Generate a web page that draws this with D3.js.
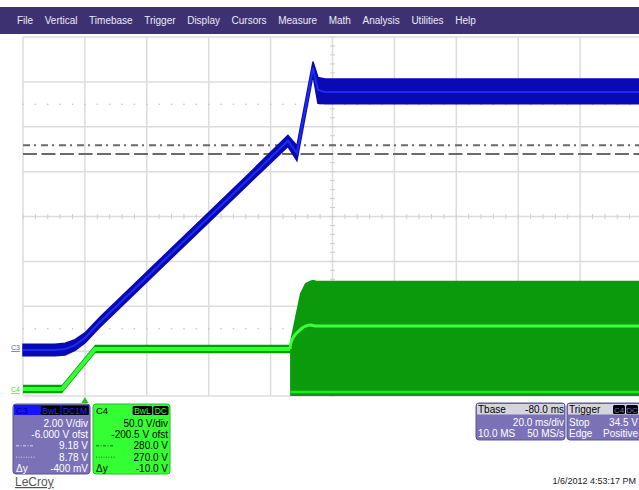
<!DOCTYPE html>
<html><head><meta charset="utf-8">
<script src="https://cdn.jsdelivr.net/npm/d3@7"></script>
<style>
body{margin:0;background:#fff;}
svg{display:block;font-family:"Liberation Sans",Arial,sans-serif;}
</style>
</head><body>
<svg id="c" width="639" height="490"></svg>
<script>
// ---------- data ----------
const menuItems = ["File","Vertical","Timebase","Trigger","Display","Cursors","Measure","Math","Analysis","Utilities","Help"];

// time axis (ms), 20 ms/div, 10 divisions, trigger at t=0
const timeTicks = [-20,0,20,40,60,80,100,120,140,160,180];
// C3 volts grid, 2 V/div, offset -6 V
const c3Ticks = [-2,0,2,4,6,8,10,12,14];

// C3 (blue) trace: time (ms), mean, low/high envelope (V)
const c3Time  = [-20, -9.7, -6.4, -3.2, 0.0, 4.9, 21.0, 37.2, 53.3, 65.6, 68.5, 73.7, 75.3, 77.6, 180];
const c3Volts = [0.05, 0.05, 0.09, 0.27, 0.59, 1.30, 3.44, 5.59, 7.73, 9.37, 8.83, 12.62, 11.64, 11.55, 11.55];
const c3Lo    = [-0.21,-0.21,-0.17,0.03, 0.37, 1.08, 3.22, 5.37, 7.51, 9.12, 8.50, 12.30, 11.05, 11.02, 11.02];
const c3Hi    = [0.31, 0.31, 0.35, 0.51, 0.81, 1.52, 3.66, 5.81, 7.95, 9.62, 9.15, 12.90, 12.20, 12.13, 12.13];

// C4 (green) trace before switching: time (ms), mean, envelope (V)
const c4Time  = [-20, -7.4, 3.3, 66.3];
const c4Volts = [8.3, 8.3, 52.9, 52.9];
const c4Lo    = [3.5, 3.5, 48.0, 48.0];
const c4Hi    = [13.0, 13.0, 57.5, 57.5];

// C4 switching section: time (ms), top of envelope, averaged level, low level (V)
const c4SwTime = [66.3, 66.5, 67.9, 69.5, 70.1, 71.1, 72.7, 73.7, 74.9, 180];
const c4SwTop  = [52.9, 65, 88.5, 115, 119, 126, 129, 130, 129, 129];
const c4SwMean = [52.9, 59, 68.5, 74, 76, 78, 79.6, 79, 78.5, 78.5];
const c4SwLow  = [5, 5, 5, 5, 5, 5, 5, 5, 5, 5];

// cursors (C3 volts)
const cursorLevels = [9.18, 8.78];

// info box texts
const c3Box = {hdr:"C3", tags:["BwL","DC1M"], rows:[["","2.00 V/div"],["","-6.000 V ofst"],["dashdot","9.18 V"],["dot","8.78 V"],["Δy","-400 mV"]]};
const c4Box = {hdr:"C4", tags:["BwL","DC"], rows:[["","50.0 V/div"],["","-200.5 V ofst"],["dashdot","280.0 V"],["dot","270.0 V"],["Δy","-10.0 V"]]};
const tbaseBox = {hdr:["Tbase","-80.0 ms"], rows:[["","20.0 ms/div"],["10.0 MS","50 MS/s"]]};
const trigBox = {hdr:["Trigger"], tags:["C4","DC"], rows:[["Stop","34.5 V"],["Edge","Positive"]]};
const dateText = "1/6/2012 4:53:17 PM";

// ---------- drawing ----------
const svg = d3.select("#c");
const L = 23, R = 642, T = 37, B = 396;
const x = d3.scaleLinear().domain([-20,180]).range([L,R]);
const y3 = d3.scaleLinear().domain([-2,14]).range([B,T]);
const y4 = d3.scaleLinear().domain([0.5,400.5]).range([B,T]);

// menu bar
svg.append("rect").attr("x",0).attr("y",7).attr("width",639).attr("height",27).attr("fill","#3d3172");
let mx = 17;
menuItems.forEach(m => {
  const t = svg.append("text").attr("x",mx).attr("y",24).attr("font-size",10).attr("fill","#ecebf5").text(m);
  mx += t.node().getComputedTextLength() + 11.6;
});

// grid
const grid = svg.append("g");
grid.selectAll("line.v").data(timeTicks).join("line")
  .attr("x1",d=>x(d)).attr("x2",d=>x(d)).attr("y1",T).attr("y2",B)
  .attr("stroke","#dcdcdc").attr("stroke-width",1.5);
grid.selectAll("line.h").data(c3Ticks).join("line")
  .attr("x1",L).attr("x2",R).attr("y1",d=>y3(d)).attr("y2",d=>y3(d))
  .attr("stroke","#dcdcdc").attr("stroke-width",1.5);
// minor ticks on centre lines
const minorT = d3.range(-20,180.01,4);
grid.selectAll("line.mt").data(minorT).join("line")
  .attr("x1",d=>x(d)).attr("x2",d=>x(d)).attr("y1",y3(6)-2.5).attr("y2",y3(6)+2.5)
  .attr("stroke","#cfcfcf").attr("stroke-width",1);
const minorV = d3.range(-2,14.01,0.4);
grid.selectAll("line.mv").data(minorV).join("line")
  .attr("x1",x(80)-2.5).attr("x2",x(80)+2.5).attr("y1",d=>y3(d)).attr("y2",d=>y3(d))
  .attr("stroke","#cfcfcf").attr("stroke-width",1);
// dotted rows
[11,1].forEach(v=>{
  grid.selectAll(null).data(minorT).join("rect")
    .attr("x",d=>x(d)-0.7).attr("y",y3(v)-0.7).attr("width",1.4).attr("height",1.4).attr("fill","#c8c8c8");
});

// cursors
svg.append("line").attr("x1",L).attr("x2",639).attr("y1",y3(cursorLevels[0])).attr("y2",y3(cursorLevels[0]))
  .attr("stroke","#6a6a6a").attr("stroke-width",2).attr("stroke-dasharray","7,4,2,5");
svg.append("line").attr("x1",L).attr("x2",639).attr("y1",y3(cursorLevels[1])).attr("y2",y3(cursorLevels[1]))
  .attr("stroke","#6a6a6a").attr("stroke-width",2).attr("stroke-dasharray","14,4.5");

// C4 trace
const idx4 = d3.range(c4Time.length);
svg.append("path").datum(idx4).attr("fill","#00a000")
  .attr("d", d3.area().x(i=>x(c4Time[i])).y0(i=>y4(c4Lo[i])).y1(i=>y4(c4Hi[i])));
svg.append("path").datum(idx4).attr("fill","none").attr("stroke","#33ff33").attr("stroke-width",4)
  .attr("d", d3.line().x(i=>x(c4Time[i])).y(i=>y4(c4Volts[i])));
const idxS = d3.range(c4SwTime.length);
svg.append("path").datum(idxS).attr("fill","#0b9a0b")
  .attr("d", d3.area().x(i=>x(c4SwTime[i])).y0(y4(0.5)).y1(i=>y4(c4SwTop[i])));
svg.append("path").datum(idxS).attr("fill","none").attr("stroke","#3cff3c").attr("stroke-width",3)
  .attr("d", d3.line().x(i=>x(c4SwTime[i])).y(i=>y4(c4SwMean[i])).curve(d3.curveMonotoneX));
svg.append("path").datum(idxS).attr("fill","none").attr("stroke","#22e622").attr("stroke-width",2.5)
  .attr("d", d3.line().x(i=>x(c4SwTime[i])).y(i=>y4(c4SwLow[i])));

// C3 trace
const idx3 = d3.range(c3Time.length);
svg.append("path").datum(idx3).attr("fill","#0a0ab4").attr("stroke","#0a0ab4").attr("stroke-width",1.5)
  .attr("d", d3.area().x(i=>x(c3Time[i])).y0(i=>y3(c3Lo[i])).y1(i=>y3(c3Hi[i])));
svg.append("path").datum(idx3).attr("fill","none").attr("stroke","#1c2cf0").attr("stroke-width",2)
  .attr("d", d3.line().x(i=>x(c3Time[i])).y(i=>y3(c3Volts[i])));

// channel markers
svg.append("text").attr("x",11).attr("y",y3(0)-1).attr("font-size",7).attr("fill","#5050ff")
  .attr("text-decoration","underline").text("C3");
svg.append("text").attr("x",11).attr("y",y4(8.3)+3).attr("font-size",7).attr("fill","#40e040")
  .attr("text-decoration","underline").text("C4");
// trigger marker
svg.append("path").attr("d",`M${x(0)-3.5},403 L${x(0)+3.5},403 L${x(0)},397 Z`).attr("fill","#22c022");

// info boxes
function chanBox(b, x0, w, bodyFill, hdrFill, txtFill, hdrTxt, tagFill, tagTxt, symColor){
  const g = svg.append("g");
  g.append("rect").attr("x",x0).attr("y",404).attr("width",w).attr("height",70).attr("rx",3)
    .attr("fill",bodyFill).attr("stroke",d3.color(bodyFill).darker(0.8)).attr("stroke-width",1);
  g.append("rect").attr("x",x0+1).attr("y",405).attr("width",w-2).attr("height",10).attr("fill",hdrFill);
  g.append("text").attr("x",x0+3).attr("y",413.5).attr("font-size",9.5).attr("fill",hdrTxt).text(b.hdr);
  let tx = x0 + w - 2;
  b.tags.slice().reverse().forEach(tg=>{
    const t = g.append("text").attr("x",tx-1).attr("y",413.5).attr("font-size",8.5).attr("text-anchor","end")
      .attr("fill",tagTxt).text(tg);
    const tw = t.node().getComputedTextLength();
    g.insert("rect","text:last-of-type").attr("x",tx-tw-2.5).attr("y",406).attr("width",tw+3).attr("height",9)
      .attr("rx",1.5).attr("fill",tagFill);
    t.raise();
    tx -= tw + 4;
  });
  b.rows.forEach((r,i)=>{
    const yy = 426.5 + i*11.4;
    g.append("text").attr("x",x0+w-2).attr("y",yy).attr("font-size",10).attr("text-anchor","end").attr("fill",txtFill).text(r[1]);
    if (r[0]==="Δy") g.append("text").attr("x",x0+3).attr("y",yy).attr("font-size",10).attr("fill",txtFill).text("Δy");
    else if (r[0]==="dashdot") g.append("line").attr("x1",x0+3).attr("x2",x0+20).attr("y1",yy-3.5).attr("y2",yy-3.5)
      .attr("stroke",symColor).attr("stroke-width",1).attr("stroke-dasharray","3,1.5,1,1.5");
    else if (r[0]==="dot") g.append("line").attr("x1",x0+3).attr("x2",x0+22).attr("y1",yy-3.5).attr("y2",yy-3.5)
      .attr("stroke",symColor).attr("stroke-width",1).attr("stroke-dasharray","1,1.5");
  });
}
chanBox(c3Box, 13, 77, "#7a71b7", "#1414ff", "#ffffff", "#00008a", "#000000", "#2a2aff", "#d8d8f0");
chanBox(c4Box, 93, 77, "#33ff33", "#33ff33", "#000000", "#000000", "#000000", "#33ff33", "#1a6a1a");

function infoBox(b, x0, w, textRight){
  const g = svg.append("g");
  g.append("rect").attr("x",x0).attr("y",403).attr("width",w).attr("height",37).attr("rx",3)
    .attr("fill","#7a71b7").attr("stroke","#5c5496").attr("stroke-width",1);
  g.append("rect").attr("x",x0+1).attr("y",404).attr("width",w-2).attr("height",10.5).attr("fill","#d6d5de");
  g.append("text").attr("x",x0+2).attr("y",412.5).attr("font-size",10).attr("fill","#000").text(b.hdr[0]);
  if (b.hdr[1]) g.append("text").attr("x",textRight).attr("y",412.5).attr("font-size",10).attr("text-anchor","end").attr("fill","#000").text(b.hdr[1]);
  if (b.tags){
    let tx = x0 + 46;
    b.tags.forEach(tg=>{
      g.append("rect").attr("x",tx).attr("y",405).attr("width",12).attr("height",9).attr("rx",1.5).attr("fill","#000");
      g.append("text").attr("x",tx+6).attr("y",412.5).attr("font-size",8).attr("text-anchor","middle").attr("fill","#7a71b7").text(tg);
      tx += 13;
    });
  }
  b.rows.forEach((r,i)=>{
    const yy = 425.5 + i*11.3;
    if (r[0]) g.append("text").attr("x",x0+2).attr("y",yy).attr("font-size",10).attr("fill","#fff").text(r[0]);
    g.append("text").attr("x",textRight).attr("y",yy).attr("font-size",10).attr("text-anchor","end").attr("fill","#fff").text(r[1]);
  });
}
infoBox(tbaseBox, 476, 89, 564);
infoBox(trigBox, 567, 78, 638);

svg.append("text").attr("x",636).attr("y",484).attr("font-size",9).attr("text-anchor","end").attr("fill","#222").text(dateText);
svg.append("text").attr("x",15).attr("y",486).attr("font-size",12).attr("fill","#555").attr("text-decoration","underline").text("LeCroy");
</script>
</body></html>
